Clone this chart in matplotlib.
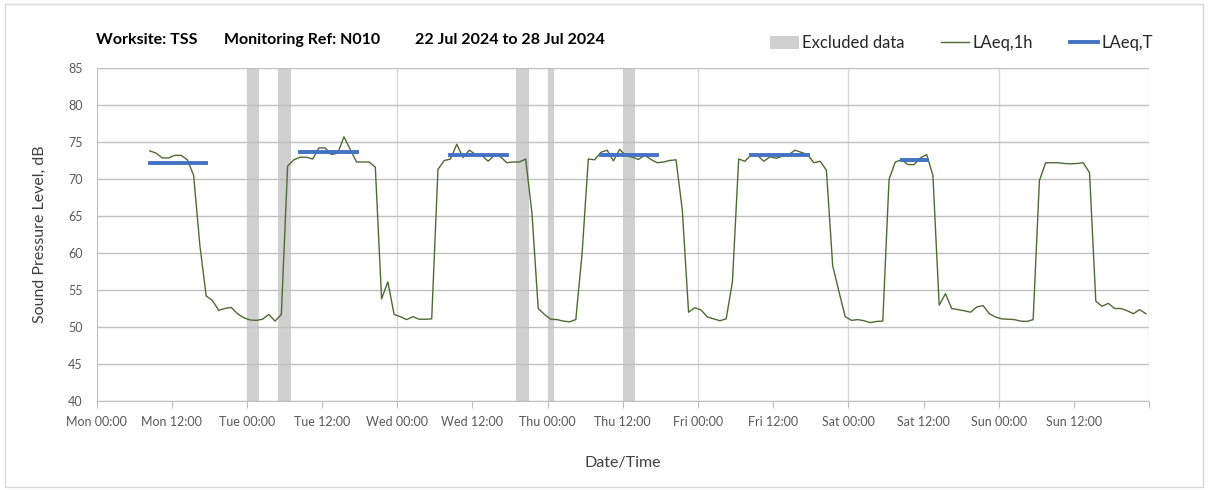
import matplotlib
matplotlib.use("Agg")
import matplotlib.pyplot as plt
from matplotlib.patches import Patch, Rectangle
from matplotlib.lines import Line2D
from matplotlib.ticker import MultipleLocator, FuncFormatter

plt.rcParams['font.family'] = ['Lato', 'DejaVu Sans']

# hourly LAeq,1h, first interval Mon 08:00-09:00
first_hour = 8
laeq_1h = [
    73.8, 73.5, 72.85, 72.85, 73.2, 73.2, 72.6, 70.5, 61.0, 54.2,
    53.6, 52.25, 52.5, 52.65, 51.8, 51.25, 50.95, 50.9, 51.05, 51.7,
    50.8, 51.7, 71.75, 72.6, 72.95, 72.95, 72.7, 74.2, 74.2, 73.3,
    73.5, 75.7, 74.0, 72.3, 72.3, 72.3, 71.6, 53.8, 56.1, 51.7,
    51.4, 51.0, 51.4, 51.05, 51.05, 51.1, 71.3, 72.5, 72.7, 74.7,
    72.9, 73.9, 73.3, 73.2, 72.4, 73.2, 73.0, 72.2, 72.3, 72.3,
    72.7, 65.4, 52.5, 51.7, 51.05, 51.0, 50.8, 50.7, 51.0, 59.9,
    72.7, 72.6, 73.6, 73.9, 72.45, 74.0, 73.15, 72.95, 72.65, 73.2,
    72.65, 72.2, 72.3, 72.5, 72.6, 65.8, 52.0, 52.6, 52.3, 51.35,
    51.1, 50.85, 51.1, 56.1, 72.7, 72.4, 73.3, 73.2, 72.4, 73.0,
    72.8, 73.1, 73.3, 73.9, 73.6, 73.3, 72.2, 72.4, 71.2, 58.3,
    54.8, 51.4, 50.9, 51.0, 50.85, 50.6, 50.75, 50.8, 69.95, 72.3,
    72.6, 71.95, 71.95, 72.85, 73.3, 70.5, 52.95, 54.5, 52.5, 52.35,
    52.2, 52.0, 52.7, 52.9, 51.8, 51.35, 51.1, 51.05, 51.0, 50.8,
    50.75, 51.0, 69.8, 72.2, 72.2, 72.2, 72.1, 72.05, 72.1, 72.2,
    70.85, 53.5, 52.8, 53.2, 52.5, 52.5, 52.2, 51.8, 52.35, 51.8,
]
hours = [first_hour + 0.5 + i for i in range(len(laeq_1h))]

# excluded periods, hours from Mon 00:00
excluded = [(24, 26), (29, 31), (67, 69), (72, 73), (84, 86)]

# daytime LAeq,T: (start hour, end hour, level)
laeq_t = [(8, 18, 72.1), (32, 42, 73.6), (56, 66, 73.3),
          (80, 90, 73.2), (104, 114, 73.3), (128, 133, 72.6)]

days = ['Mon', 'Tue', 'Wed', 'Thu', 'Fri', 'Sat', 'Sun']

fig = plt.figure(figsize=(12.08, 4.90), dpi=100)
fig.patches.append(Rectangle((0.004, 0.006), 0.992, 0.986, transform=fig.transFigure,
                             fill=False, edgecolor='#d9d9d9', lw=1))
ax = fig.add_axes([0.0799, 0.1816, 0.8713, 0.6796])

for s, e in excluded:
    ax.axvspan(s, e, color='#d0d0d0', lw=0, zorder=1)

ax.plot(hours, laeq_1h, color='#4f6b35', lw=1.0, zorder=3)

for s, e, v in laeq_t:
    ax.plot([s + 0.5, e - 0.5], [v, v], color='#4472c4', lw=2.8,
            solid_capstyle='projecting', zorder=4)

ax.set_xlim(0, 168)
ax.set_ylim(40, 85)
ax.yaxis.set_major_locator(MultipleLocator(5))
ax.xaxis.set_major_locator(MultipleLocator(12))

def fmt_time(x, pos):
    h = int(round(x))
    if h >= 168:
        return ''
    return '%s %02d:00' % (days[h // 24], h % 24)

ax.xaxis.set_major_formatter(FuncFormatter(fmt_time))

ax.grid(axis='y', color='#c0c0c0', lw=1.0, zorder=0)
for d in range(1, 8):
    ax.axvline(d * 24, color='#d9d9d9', lw=1.0, zorder=0)

for side in ['top', 'right']:
    ax.spines[side].set_visible(False)
ax.spines['left'].set_color('#bfbfbf')
ax.spines['bottom'].set_color('#bfbfbf')
ax.tick_params(axis='x', direction='out', length=5, color='#bfbfbf',
               labelsize=9, labelcolor='#595959', pad=6)
ax.tick_params(axis='y', length=0, labelsize=9, labelcolor='#595959', pad=10)

ax.set_ylabel('Sound Pressure Level, dB', fontsize=11.5, color='#404040', labelpad=15)
ax.set_xlabel('Date/Time', fontsize=11.5, color='#404040', labelpad=20)

title_y = 1 - 40 / 490
fig.text(96 / 1208, title_y, 'Worksite: TSS', fontsize=11.5, fontweight='bold', va='center')
fig.text(224 / 1208, title_y, 'Monitoring Ref: N010', fontsize=11.5, fontweight='bold', va='center')
fig.text(415 / 1208, title_y, '22 Jul 2024 to 28 Jul 2024', fontsize=11.5, fontweight='bold', va='center')

handles = [Patch(facecolor='#d0d0d0', edgecolor='none', label='Excluded data'),
           Line2D([], [], color='#4f6b35', lw=1.0, label='LAeq,1h'),
           Line2D([], [], color='#4472c4', lw=2.8, label='LAeq,T')]
fig.legend(handles=handles, loc='center right', bbox_to_anchor=(1168 / 1208, 1 - 43 / 490),
           ncol=3, frameon=False, fontsize=12, handlelength=1.7, handleheight=0.8,
           handletextpad=0.2, columnspacing=2.2, labelcolor='#262626')

fig.savefig('out.png', dpi=100)
